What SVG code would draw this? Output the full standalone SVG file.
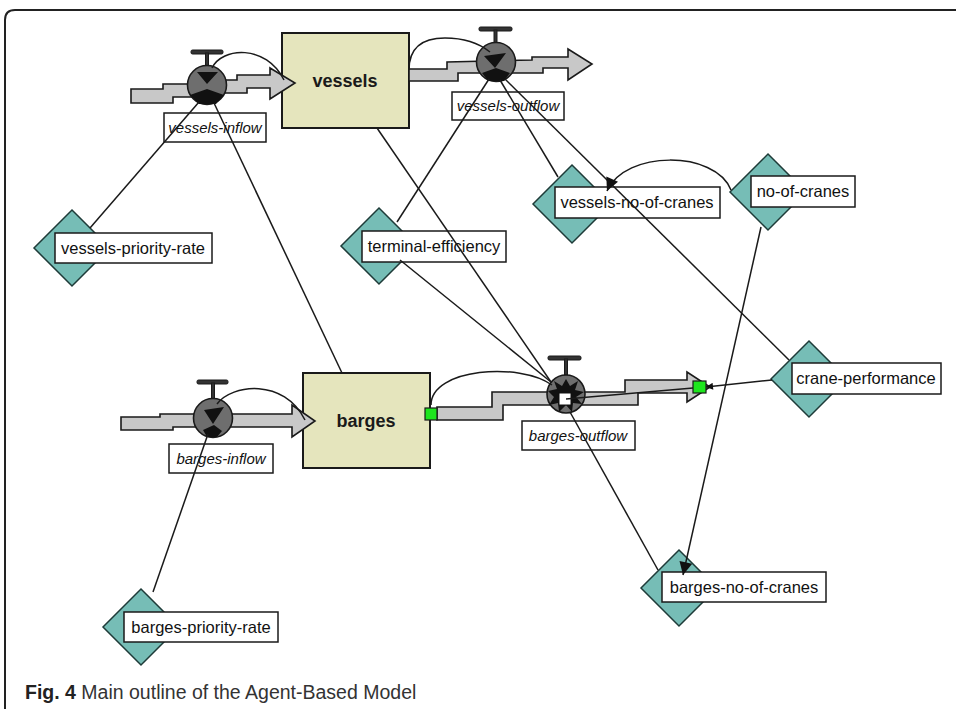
<svg xmlns="http://www.w3.org/2000/svg" width="956" height="709" viewBox="0 0 956 709">
<style>
.frame{fill:none;stroke:#222;stroke-width:2}
.stock{fill:#e5e5bd;stroke:#1a1a1a;stroke-width:2}
.stockt{font-family:"Liberation Sans",Arial,sans-serif;font-weight:bold;font-size:18px;fill:#1a1a1a;text-anchor:middle}
.pipe{fill:#c8c8c8;stroke:#1a1a1a;stroke-width:1.6;stroke-linejoin:miter}
.valve{fill:#6e6e6e;stroke:#1a1a1a;stroke-width:1.6}
.vin{fill:#111}
.handle{fill:#333;stroke:#1a1a1a;stroke-width:1}
.lbl{fill:#fff;stroke:#1a1a1a;stroke-width:1.5}
.lt{font-family:"Liberation Sans",Arial,sans-serif;font-size:16.5px;fill:#111;text-anchor:middle}
.ft{font-family:"Liberation Sans",Arial,sans-serif;font-size:15px;font-style:italic;fill:#111;text-anchor:middle}
.dia{fill:#76bdb6;stroke:#1e3b38;stroke-width:1.5}
.link{fill:none;stroke:#1a1a1a;stroke-width:1.5}
.green{fill:#1ee61e;stroke:#1a1a1a;stroke-width:1.2}
.cap{font-family:"Liberation Sans",Arial,sans-serif;font-size:19.5px;fill:#333}
</style>
<defs>
<marker id="arr" viewBox="0 0 10 10" refX="10" refY="5" markerWidth="15" markerHeight="13" markerUnits="userSpaceOnUse" orient="auto"><path d="M0,0 L10,5 L0,10 z" fill="#111"/></marker>
<marker id="arrs" viewBox="0 0 10 10" refX="10" refY="5" markerWidth="8" markerHeight="7" markerUnits="userSpaceOnUse" orient="auto"><path d="M0,0 L10,5 L0,10 z" fill="#111"/></marker>
</defs>
<rect width="956" height="709" fill="#fff"/>
<path class="frame" d="M5,709 V20 Q5,10 15,10 H956"/>

<g id="vessels">
<rect class="stock" x="282" y="33" width="127" height="95"/>
<text class="stockt" x="345" y="87">vessels</text>
</g>
<g id="barges">
<rect class="stock" x="303" y="373" width="127" height="95"/>
<text class="stockt" x="366" y="427">barges</text>
</g>

<g id="vessels-inflow">
<path class="pipe" d="M131,89 L163,89 L163,84 L200,84 L200,80 L237,80 L237,75 L270,75 L270,68 L295,83 L270,99 L270,88 L247,88 L247,93 L210,93 L210,97 L173,97 L173,103 L131,103 Z"/>
<rect class="handle" x="191" y="50" width="32" height="4" rx="1.5"/>
<rect class="handle" x="205.5" y="53" width="3" height="14"/>
<circle class="valve" cx="207" cy="85" r="19.5"/>
<path class="vin" d="M197,72 L218,72 L207,84 Z M190,95 L207,89 L224,95 L216,104 L199,104 Z"/>
<rect class="lbl" x="164" y="113" width="102" height="29"/>
<text class="ft" x="215" y="133">vessels-inflow</text>
</g>

<g id="vessels-outflow">
<path class="pipe" d="M409,69 L447,69 L447,62 L532,60 L532,57 L568,57 L568,49 L592,64 L568,80 L568,68 L543,68 L543,73 L458,73 L458,81 L409,81 Z"/>
<rect class="handle" x="479" y="27" width="33" height="4" rx="1.5"/>
<rect class="handle" x="494" y="30" width="3" height="13"/>
<circle class="valve" cx="496" cy="62" r="19.5"/>
<path class="vin" d="M484,56 L506,53 L495,68 Z M482,73 L496,68 L510,73 L504,81 L488,81 Z"/>
<rect class="lbl" x="452" y="92" width="112" height="28"/>
<text class="ft" x="508" y="111">vessels-outflow</text>
</g>

<g id="barges-inflow">
<path class="pipe" d="M121,417 L160,417 L160,414 L292,414 L292,405 L315,421 L292,437 L292,427 L173,427 L173,430 L121,430 Z"/>
<rect class="handle" x="197" y="380" width="31" height="4" rx="1.5"/>
<rect class="handle" x="211.5" y="383" width="3" height="16"/>
<circle class="valve" cx="213" cy="418" r="19.5"/>
<path class="vin" d="M204,410 L224,407 L213,424 Z M203,430 L214,425 L222,431 L217,437 L207,437 Z"/>
<rect class="lbl" x="169" y="444" width="104" height="29"/>
<text class="ft" x="221" y="464">barges-inflow</text>
</g>

<g id="barges-outflow">
<path class="pipe" d="M437,407 L492,407 L492,392 L625,392 L625,380 L687,380 L687,372 L710,387 L687,402 L687,393 L638,393 L638,405 L503,405 L503,420 L437,420 Z"/>
<rect class="handle" x="548" y="356" width="33" height="4" rx="1.5"/>
<rect class="handle" x="564.5" y="359" width="3" height="16"/>
<circle class="valve" cx="566" cy="394" r="19"/>
<path class="vin" d="M566,379 L570,386 L578,381 L575,390 L584,392 L576,397 L582,404 L573,403 L572,412 L566,405 L559,412 L558,403 L549,405 L554,397 L548,391 L557,389 L554,381 L562,386 Z"/>
<rect x="559" y="393" width="12" height="12" fill="#fff" stroke="#111" stroke-width="1"/>
<rect class="green" x="425" y="408" width="12" height="12"/>
<rect class="green" x="693" y="381" width="13" height="12"/>
<rect class="lbl" x="522" y="421" width="113" height="29"/>
<text class="ft" x="578" y="441">barges-outflow</text>
</g>

<g id="vessels-priority-rate">
<path class="dia" d="M72,210 L110,248 L72,286 L34,248 Z"/>
<rect class="lbl" x="55" y="233" width="157" height="30"/>
<text class="lt" x="133" y="254">vessels-priority-rate</text>
</g>
<g id="terminal-efficiency">
<path class="dia" d="M379,208 L417,246 L379,284 L341,246 Z"/>
<rect class="lbl" x="362" y="231" width="144" height="31"/>
<text class="lt" x="434" y="252">terminal-efficiency</text>
</g>
<g id="vessels-no-of-cranes">
<path class="dia" d="M572,165 L611,204 L572,243 L533,204 Z"/>
<rect class="lbl" x="555" y="187" width="165" height="31"/>
<text class="lt" x="637" y="208">vessels-no-of-cranes</text>
</g>
<g id="no-of-cranes">
<path class="dia" d="M768,154 L806,192 L768,230 L730,192 Z"/>
<rect class="lbl" x="751" y="176" width="104" height="31"/>
<text class="lt" x="803" y="197">no-of-cranes</text>
</g>
<g id="crane-performance">
<path class="dia" d="M809,341 L847,379 L809,417 L771,379 Z"/>
<rect class="lbl" x="792" y="363" width="149" height="31"/>
<text class="lt" x="866" y="384">crane-performance</text>
</g>
<g id="barges-priority-rate">
<path class="dia" d="M141,589 L179,627 L141,665 L103,627 Z"/>
<rect class="lbl" x="124" y="612" width="154" height="30"/>
<text class="lt" x="201" y="633">barges-priority-rate</text>
</g>
<g id="barges-no-of-cranes">
<path class="dia" d="M679,550 L717,588 L679,626 L641,588 Z"/>
<rect class="lbl" x="662" y="572" width="164" height="30"/>
<text class="lt" x="744" y="593">barges-no-of-cranes</text>
</g>

<g id="connectors">
<path class="link" d="M212,68 C222,47 266,44 284,80"/>
<path class="link" d="M409,70 C409,45 425,38 445,38 C465,38 480,44 490,52"/>
<path class="link" d="M217,404 C232,384 284,378 305,420"/>
<path class="link" d="M431,405 C431,368 520,362 552,385"/>
<line class="link" x1="90" y1="228" x2="199" y2="102"/>
<line class="link" x1="214" y1="103" x2="342" y2="373"/>
<line class="link" x1="397" y1="222" x2="489" y2="79"/>
<line class="link" x1="377" y1="128" x2="551" y2="382"/>
<line class="link" x1="400" y1="260" x2="551" y2="382"/>
<line class="link" x1="500" y1="80" x2="558" y2="177"/>
<line class="link" x1="505" y1="79" x2="789" y2="360"/>
<path class="link" d="M731,190 C715,150 625,150 607,191" marker-end="url(#arr)"/>
<line class="link" x1="761" y1="227" x2="683" y2="575" marker-end="url(#arr)"/>
<line class="link" x1="570" y1="412" x2="658" y2="570"/>
<line class="link" x1="153" y1="592" x2="208" y2="434"/>
<line class="link" x1="566" y1="399" x2="693" y2="388" stroke-width="1.2"/>
<line class="link" x1="772" y1="380" x2="706" y2="387" marker-end="url(#arrs)"/>
</g>

<text class="cap" x="25" y="699"><tspan font-weight="bold" fill="#222">Fig. 4</tspan> Main outline of the Agent-Based Model</text>
</svg>
